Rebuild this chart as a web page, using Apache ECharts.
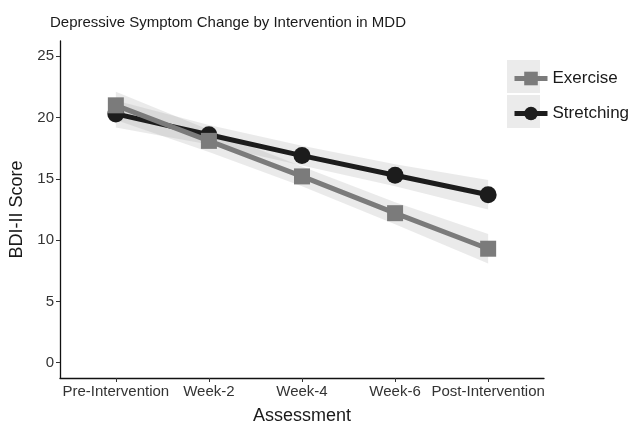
<!DOCTYPE html>
<html>
<head>
<meta charset="utf-8">
<script src="https://cdn.jsdelivr.net/npm/echarts@6/dist/echarts.min.js"></script>
<style>
  html, body { margin: 0; padding: 0; background: #fff; }
  #chart { width: 633px; height: 425px; }
</style>
</head>
<body>
<div id="chart"></div>
<script>
// Assessment time points
const categories = ['Pre-Intervention', 'Week-2', 'Week-4', 'Week-6', 'Post-Intervention'];

// Mean BDI-II scores per group
const exercise = [21.0, 18.1, 15.2, 12.2, 9.3];
const stretching = [20.3, 18.6, 16.9, 15.3, 13.7];

// Confidence band limits per group
const exerciseLower = [19.8, 17.2, 14.4, 11.3, 8.1];
const exerciseUpper = [22.1, 19.0, 16.0, 13.1, 10.5];
const stretchingLower = [19.2, 17.8, 16.1, 14.4, 12.5];
const stretchingUpper = [21.4, 19.4, 17.7, 16.2, 14.9];

// Y axis tick labels
const yTicks = [0, 5, 10, 15, 20, 25];

const FONT = 'Liberation Sans, Arial, sans-serif';

function bandSeries(name, lower, upper) {
  return {
    name: name,
    type: 'custom',
    silent: true,
    z: 1,
    data: categories.map((c, i) => [i, lower[i], upper[i]]),
    encode: { x: 0, y: [1, 2] },
    renderItem: function (params, api) {
      if (params.dataIndex !== 0) return null;
      const top = lower.map((v, i) => api.coord([i, upper[i]]));
      const bottom = lower.map((v, i) => api.coord([i, lower[i]])).reverse();
      return {
        type: 'polygon',
        shape: { points: top.concat(bottom) },
        style: { fill: 'rgba(160,160,160,0.22)' }
      };
    }
  };
}

const chart = echarts.init(document.getElementById('chart'), null, { renderer: 'canvas' });

chart.setOption({
  animation: false,
  backgroundColor: '#ffffff',
  textStyle: { fontFamily: FONT },
  title: {
    text: 'Depressive Symptom Change by Intervention in MDD',
    left: 45,
    top: 10,
    textStyle: { fontFamily: FONT, fontSize: 15, fontWeight: 'normal', color: '#1a1a1a' }
  },
  graphic: [
    { type: 'rect', left: 507, top: 60, shape: { width: 33, height: 33 }, style: { fill: '#ebebeb' }, z: 0 },
    { type: 'rect', left: 507, top: 95, shape: { width: 33, height: 33 }, style: { fill: '#ebebeb' }, z: 0 }
  ],
  legend: {
    orient: 'vertical',
    left: 507,
    top: 65,
    itemWidth: 33,
    itemHeight: 17,
    itemGap: 18,
    data: ['Exercise', 'Stretching'],
    lineStyle: { width: 5 },
    textStyle: { fontFamily: FONT, fontSize: 17, color: '#1a1a1a' }
  },
  grid: { left: 60, right: 89, top: 41, bottom: 47, containLabel: false, outerBoundsMode: 'none' },
  xAxis: {
    type: 'value',
    min: -0.6,
    max: 4.6,
    name: 'Assessment',
    nameLocation: 'middle',
    nameGap: 29,
    nameTextStyle: { fontFamily: FONT, fontSize: 18, color: '#1a1a1a' },
    axisLine: { onZero: false, lineStyle: { color: '#111', width: 1.3 } },
    axisTick: { customValues: [0, 1, 2, 3, 4], length: 4, lineStyle: { color: '#333' } },
    axisLabel: {
      customValues: [0, 1, 2, 3, 4],
      formatter: v => categories[Math.round(v)],
      fontFamily: FONT, fontSize: 15, color: '#333', margin: 6
    },
    splitLine: { show: false }
  },
  yAxis: {
    type: 'value',
    min: -1.25,
    max: 26.25,
    name: 'BDI-II Score',
    nameLocation: 'middle',
    nameGap: 34,
    nameTextStyle: { fontFamily: FONT, fontSize: 18, color: '#1a1a1a' },
    axisLine: { show: true, onZero: false, lineStyle: { color: '#111', width: 1.3 } },
    axisTick: { show: true, customValues: yTicks, length: 4, lineStyle: { color: '#333' } },
    axisLabel: { customValues: yTicks, fontFamily: FONT, fontSize: 15, color: '#333', margin: 6 },
    splitLine: { show: false }
  },
  series: [
    bandSeries('stretchingBand', stretchingLower, stretchingUpper),
    bandSeries('exerciseBand', exerciseLower, exerciseUpper),
    {
      name: 'Stretching',
      type: 'line',
      z: 3,
      data: categories.map((c, i) => [i, stretching[i]]),
      symbol: 'circle',
      symbolSize: 17,
      lineStyle: { color: '#1c1c1c', width: 5 },
      itemStyle: { color: '#1c1c1c' }
    },
    {
      name: 'Exercise',
      type: 'line',
      z: 4,
      data: categories.map((c, i) => [i, exercise[i]]),
      symbol: 'rect',
      symbolSize: 16,
      lineStyle: { color: '#7b7b7b', width: 5 },
      itemStyle: { color: '#7b7b7b' }
    }
  ]
});
</script>
</body>
</html>
